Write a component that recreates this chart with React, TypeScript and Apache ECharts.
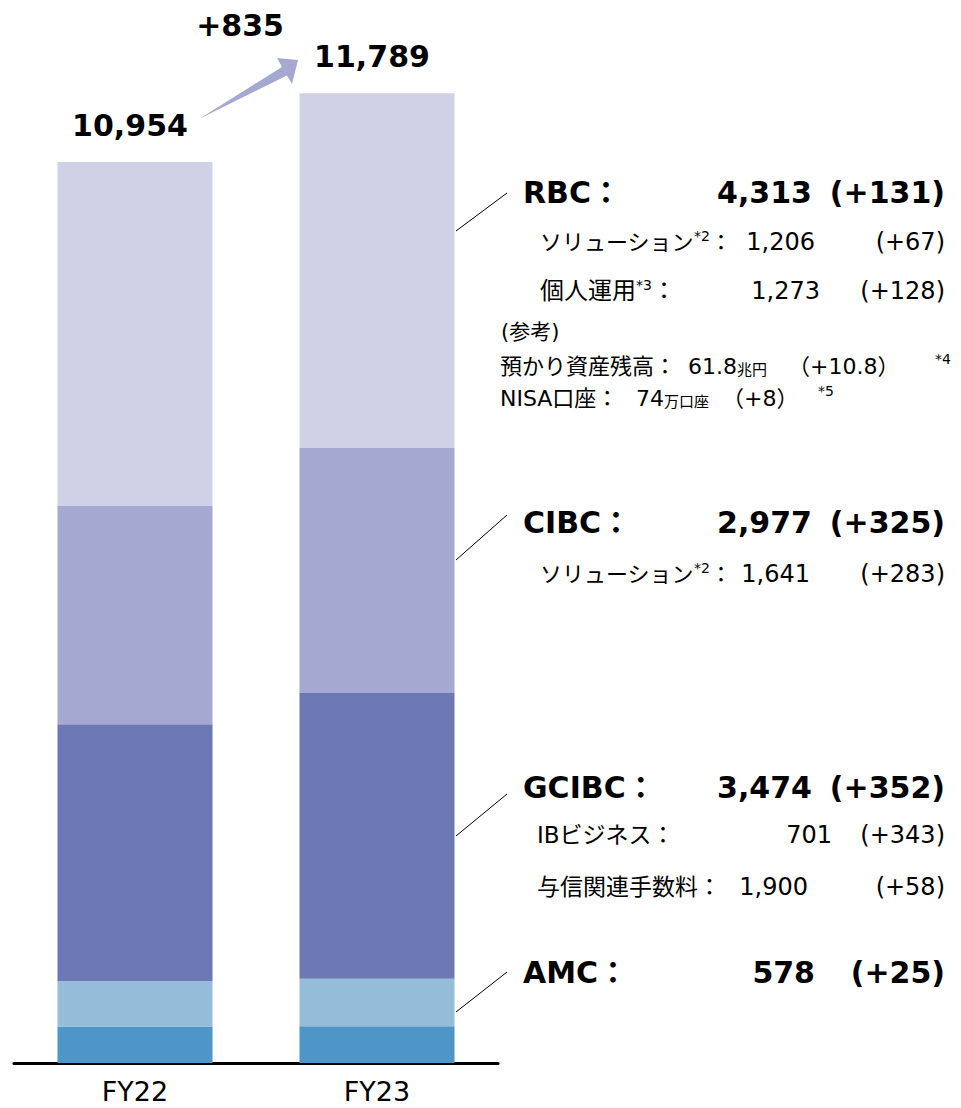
import React, { useEffect, useRef } from "react";
import * as echarts from "echarts";

// Fiscal years on the category axis
const years = ["FY22", "FY23"];

// Segment values, stacked from the bottom up
const otherValues = [445, 447];
const amcValues = [553, 578];
const gcibcValues = [3122, 3474];
const cibcValues = [2652, 2977];
const rbcValues = [4182, 4313];

const segmentNames = ["その他", "AMC", "GCIBC", "CIBC", "RBC"];
const segmentColors = ["#4F96C8", "#95BCD9", "#6B78B3", "#A5A9D2", "#CFD1E7"];

// Breakdown lines shown next to the segments (FY23, change vs FY22)
const rbcSolution = { value: "1,206", change: "(+67)" };
const rbcPersonal = { value: "1,273", change: "(+128)" };
const cibcSolution = { value: "1,641", change: "(+283)" };
const gcibcIb = { value: "701", change: "(+343)" };
const gcibcCredit = { value: "1,900", change: "(+58)" };
const assetsUnderCustody = { value: "61.8", unit: "兆円", change: "（+10.8）" };
const nisaAccounts = { value: "74", unit: "万口座", change: "（+8）" };

const FONT = "'DejaVu Sans', 'Noto Sans CJK JP', sans-serif";
const fmt = (v: number) => v.toLocaleString("en-US");
const signed = (v: number) => (v >= 0 ? "+" : "") + fmt(v);

const allSeries = [otherValues, amcValues, gcibcValues, cibcValues, rbcValues];
const totals = years.map((_, i) => allSeries.reduce((s, arr) => s + arr[i], 0));

type TextOpts = {
  x: number;
  y: number;
  text: string;
  size?: number;
  bold?: boolean;
  align?: "left" | "right" | "center";
  rich?: Record<string, any>;
};

function txt(o: TextOpts) {
  const align = o.align || "left";
  return {
    type: "text",
    x: o.x,
    y: o.y,
    silent: true,
    style: {
      text: o.text,
      fontFamily: FONT,
      fontSize: o.size || 24,
      fontWeight: o.bold ? "bold" : "normal",
      fill: "#000",
      textAlign: align,
      align,
      textVerticalAlign: "middle",
      verticalAlign: "middle",
      rich: o.rich,
    },
  };
}

function leader(x1: number, y1: number, x2: number, y2: number) {
  return {
    type: "line",
    silent: true,
    shape: { x1, y1, x2, y2 },
    style: { stroke: "#000", lineWidth: 1 },
  };
}

const labelRich = {
  k: { fontFamily: FONT, fontSize: 22, fill: "#000", lineHeight: 26 },
  j: { fontFamily: FONT, fontSize: 24, fill: "#000", lineHeight: 26 },
  s: { fontFamily: FONT, fontSize: 14, fill: "#000", verticalAlign: "top", lineHeight: 14 },
};

const smallRich = {
  m: { fontFamily: FONT, fontSize: 22, fill: "#000" },
  u: { fontFamily: FONT, fontSize: 15, fill: "#000", verticalAlign: "bottom" },
};

function header(name: string, idx: number, y: number, valueRight: number) {
  const arr = allSeries[idx];
  return [
    txt({ x: 523, y, text: name + "：", size: 30, bold: true }),
    txt({ x: valueRight, y, text: fmt(arr[1]), size: 30, bold: true, align: "right" }),
    txt({ x: 945, y, text: "(" + signed(arr[1] - arr[0]) + ")", size: 30, bold: true, align: "right" }),
  ];
}

export default function App() {
  const ref = useRef<HTMLDivElement>(null);

  useEffect(() => {
    document.body.style.margin = "0";
    if (!ref.current) return;
    const chart = echarts.init(ref.current, undefined, { renderer: "svg" });

    const series = allSeries.map((data, i) => ({
      name: segmentNames[i],
      type: "bar",
      stack: "total",
      data,
      barWidth: 155,
      itemStyle: { color: segmentColors[i] },
      label:
        i === allSeries.length - 1
          ? {
              show: true,
              position: "top",
              distance: 22,
              offset: [-5, 0],
              fontFamily: FONT,
              fontSize: 30,
              fontWeight: "bold",
              color: "#000",
              formatter: (p: any) => fmt(totals[p.dataIndex]),
            }
          : { show: false },
    }));

    const graphic: any[] = [
      // growth arrow between the two totals
      {
        type: "polygon",
        silent: true,
        shape: {
          points: [
            [199, 119],
            [282, 67],
            [277, 58],
            [298, 60],
            [292, 84],
            [287, 75.5],
          ],
        },
        style: { fill: "#A5A9D2" },
      },
      txt({ x: 240, y: 25, text: signed(totals[1] - totals[0]), size: 30, bold: true, align: "center" }),

      // RBC
      leader(456, 231, 507, 193),
      ...header("RBC", 4, 192, 812),
      txt({ x: 540, y: 242, text: "{k|ソリューション}{s|*2}{k|：}", rich: labelRich }),
      txt({ x: 815, y: 242, text: rbcSolution.value, align: "right" }),
      txt({ x: 945, y: 242, text: rbcSolution.change, align: "right" }),
      txt({ x: 540, y: 291, text: "{j|個人運用}{s|*3}{j|：}", rich: labelRich }),
      txt({ x: 820, y: 291, text: rbcPersonal.value, align: "right" }),
      txt({ x: 945, y: 291, text: rbcPersonal.change, align: "right" }),
      txt({ x: 501, y: 332, text: "(参考)", size: 21 }),
      txt({ x: 500, y: 366, text: "預かり資産残高：", size: 22 }),
      txt({ x: 688, y: 366, text: "{m|" + assetsUnderCustody.value + "}{u|" + assetsUnderCustody.unit + "}", rich: smallRich }),
      txt({ x: 788, y: 366, text: assetsUnderCustody.change, size: 22 }),
      txt({ x: 935, y: 359, text: "*4", size: 14 }),
      txt({ x: 500, y: 398, text: "NISA口座：", size: 22 }),
      txt({ x: 636, y: 398, text: "{m|" + nisaAccounts.value + "}{u|" + nisaAccounts.unit + "}", rich: smallRich }),
      txt({ x: 722, y: 398, text: nisaAccounts.change, size: 22 }),
      txt({ x: 818, y: 391, text: "*5", size: 14 }),

      // CIBC
      leader(456, 560, 507, 515),
      ...header("CIBC", 3, 522, 812),
      txt({ x: 540, y: 574, text: "{k|ソリューション}{s|*2}{k|：}", rich: labelRich }),
      txt({ x: 810, y: 574, text: cibcSolution.value, align: "right" }),
      txt({ x: 945, y: 574, text: cibcSolution.change, align: "right" }),

      // GCIBC
      leader(456, 836, 507, 794),
      ...header("GCIBC", 2, 787, 812),
      txt({ x: 537, y: 835, text: "IBビジネス：", size: 23 }),
      txt({ x: 832, y: 835, text: gcibcIb.value, align: "right" }),
      txt({ x: 945, y: 835, text: gcibcIb.change, align: "right" }),
      txt({ x: 537, y: 887, text: "与信関連手数料：", size: 23 }),
      txt({ x: 808, y: 887, text: gcibcCredit.value, align: "right" }),
      txt({ x: 945, y: 887, text: gcibcCredit.change, align: "right" }),

      // AMC
      leader(456, 1012, 507, 972),
      ...header("AMC", 1, 972, 815),
    ];

    chart.setOption({
      animation: false,
      grid: { left: 14, right: 463, top: 76, bottom: 45, containLabel: false },
      xAxis: {
        type: "category",
        data: years,
        axisLine: { lineStyle: { color: "#000", width: 3 } },
        axisTick: { show: false },
        axisLabel: { fontFamily: FONT, fontSize: 27, color: "#000", margin: 15 },
      },
      yAxis: {
        type: "value",
        min: 0,
        max: 12000,
        show: false,
        splitLine: { show: false },
      },
      series,
      graphic,
    });

    return () => chart.dispose();
  }, []);

  return <div ref={ref} style={{ width: 961, height: 1108 }} />;
}
